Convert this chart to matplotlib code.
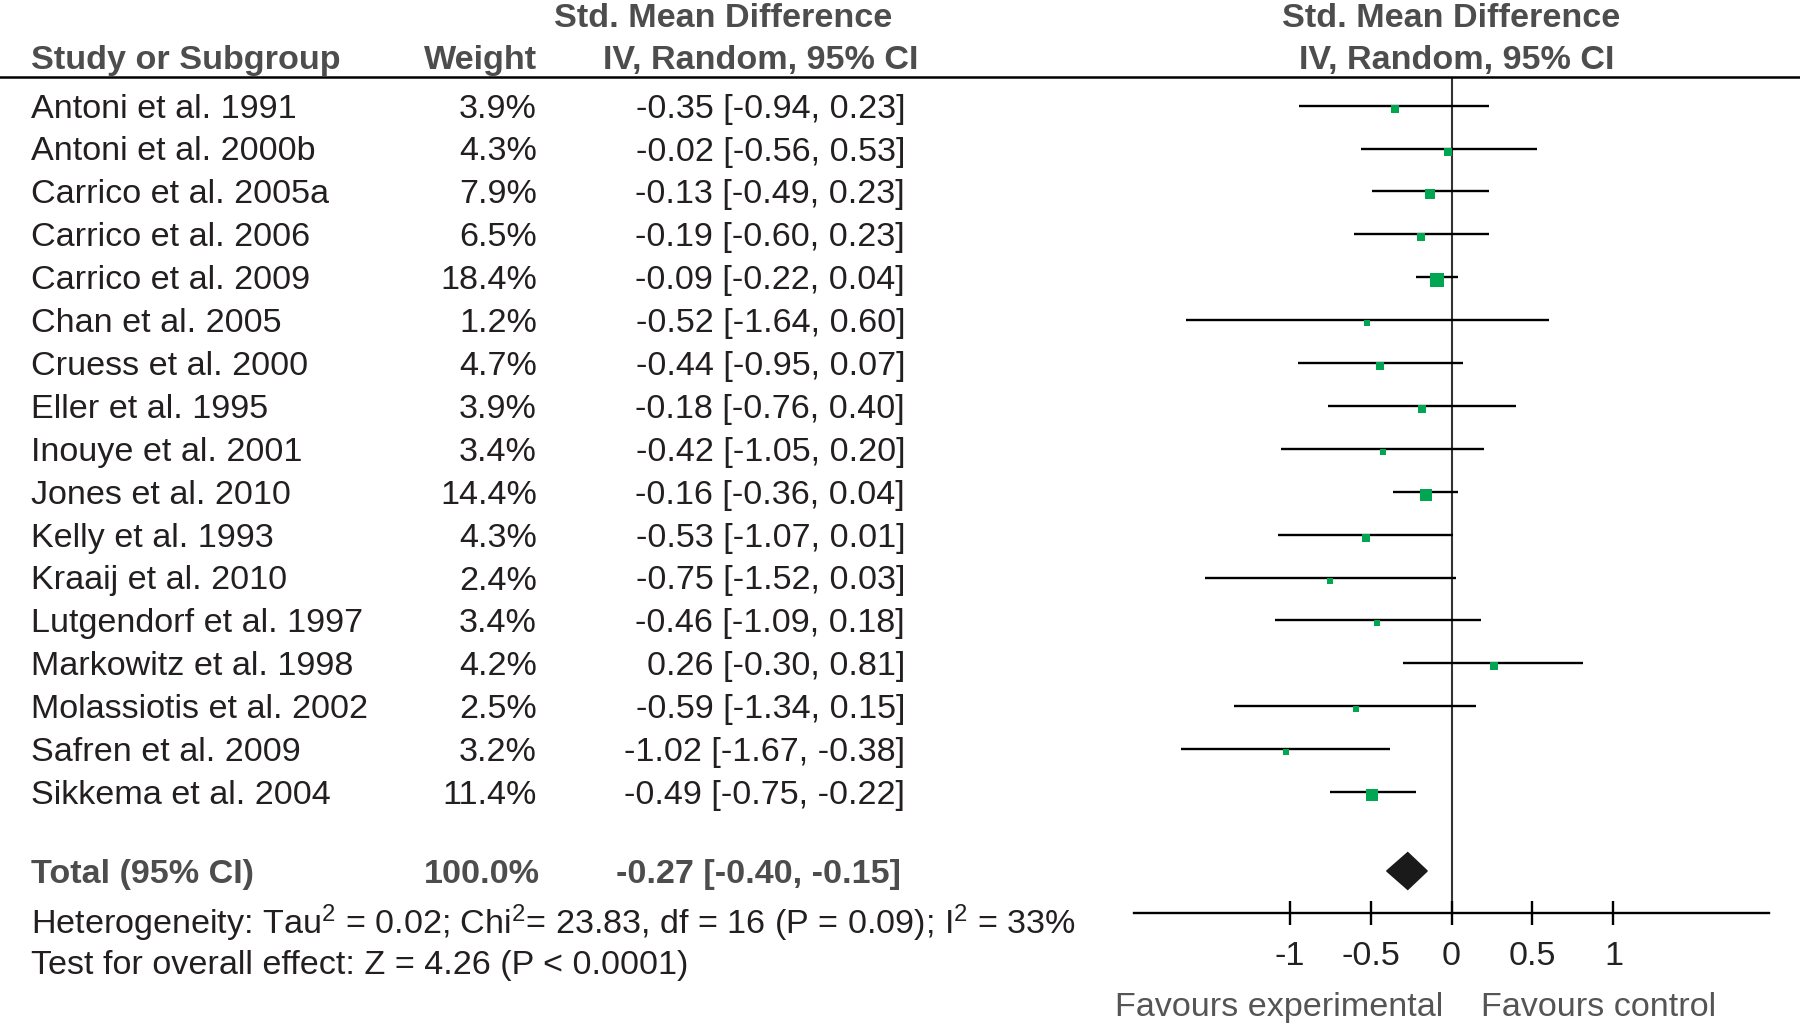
import numpy as np
import matplotlib
matplotlib.use('Agg')
import matplotlib.pyplot as plt
from matplotlib.lines import Line2D
from matplotlib.transforms import blended_transform_factory

plt.rcParams['font.family'] = ['Liberation Sans', 'DejaVu Sans']
plt.rcParams['mathtext.fontset'] = 'custom'
plt.rcParams['mathtext.rm'] = 'Liberation Sans'
plt.rcParams['mathtext.default'] = 'regular'

studies = ['Antoni et al. 1991', 'Antoni et al. 2000b', 'Carrico et al. 2005a',
           'Carrico et al. 2006', 'Carrico et al. 2009', 'Chan et al. 2005',
           'Cruess et al. 2000', 'Eller et al. 1995', 'Inouye et al. 2001',
           'Jones et al. 2010', 'Kelly et al. 1993', 'Kraaij et al. 2010',
           'Lutgendorf et al. 1997', 'Markowitz et al. 1998', 'Molassiotis et al. 2002',
           'Safren et al. 2009', 'Sikkema et al. 2004']
weights = [3.9, 4.3, 7.9, 6.5, 18.4, 1.2, 4.7, 3.9, 3.4, 14.4, 4.3, 2.4, 3.4, 4.2, 2.5, 3.2, 11.4]
smd = [-0.35, -0.02, -0.13, -0.19, -0.09, -0.52, -0.44, -0.18, -0.42, -0.16,
       -0.53, -0.75, -0.46, 0.26, -0.59, -1.02, -0.49]
ci_lo = [-0.94, -0.56, -0.49, -0.60, -0.22, -1.64, -0.95, -0.76, -1.05, -0.36,
         -1.07, -1.52, -1.09, -0.30, -1.34, -1.67, -0.75]
ci_hi = [0.23, 0.53, 0.23, 0.23, 0.04, 0.60, 0.07, 0.40, 0.20, 0.04,
         0.01, 0.03, 0.18, 0.81, 0.15, -0.38, -0.22]
total_w = 100.0
total = -0.27
total_lo, total_hi = -0.40, -0.15
xticks = [-1, -0.5, 0, 0.5, 1]
xticklabels = ['-1', '-0.5', '0', '0.5', '1']

W, H = 1800, 1023
fig = plt.figure(figsize=(W / 100, H / 100), dpi=100)

# forest panel, placed in pixels
x0, x1 = 1134, 1769
ytop, ybot = 77, 913
ax = fig.add_axes([x0 / W, 1 - ybot / H, (x1 - x0) / W, (ybot - ytop) / H])
row0, rowh = 105.6, 42.9
ax.set_xlim(-1.96, 1.96)
ax.set_ylim((ybot - row0) / rowh, (ytop - row0) / rowh)
total_row = (871 - row0) / rowh

rows = np.arange(len(studies))
green = '#00a651'
ax.axvline(0, color='#333333', lw=1.5, zorder=1)
ax.hlines(rows, ci_lo, ci_hi, color='black', lw=1.7, zorder=2)
for r, m, w in zip(rows, smd, weights):
    side = max(1.15 + 3.0 * np.sqrt(w), 6.0) * 0.72  # px -> pt
    ax.plot(m, r + 0.07, marker='s', ms=side, color=green, mec=green, mew=0, zorder=3)
dh = 0.43
ax.fill([total_lo, total, total_hi, total],
        [total_row, total_row - dh, total_row, total_row + dh],
        color='#1a1a1a', zorder=3)

for s in ['top', 'left', 'right']:
    ax.spines[s].set_visible(False)
ax.spines['bottom'].set_linewidth(1.7)
ax.set_yticks([])
ax.set_xticks(xticks)
ax.set_xticklabels(xticklabels)
ax.tick_params(axis='x', direction='inout', length=17, width=1.7, pad=12,
               labelsize=24.6, labelcolor='#222222')

# header rule across the whole figure
fig.add_artist(Line2D([0, 1], [1 - ytop / H] * 2, transform=fig.transFigure,
                      color='black', lw=1.8))

tr = blended_transform_factory(fig.transFigure, ax.transData)
txt = '#231f20'
hdr = '#4d4d4d'
fs = 24.6
dy = 3.5 / rowh  # text sits a touch lower than the marks

def fx(px):
    return px / W

def ry(py):
    return (py - row0) / rowh + dy

fig.text(fx(723), ry(15), 'Std. Mean Difference', transform=tr, ha='center', va='center',
         fontsize=fs, fontweight='bold', color=hdr)
fig.text(fx(1451), ry(15), 'Std. Mean Difference', transform=tr, ha='center', va='center',
         fontsize=fs, fontweight='bold', color=hdr)
fig.text(fx(31), ry(57), 'Study or Subgroup', transform=tr, ha='left', va='center',
         fontsize=fs, fontweight='bold', color=hdr)
fig.text(fx(537), ry(57), 'Weight', transform=tr, ha='right', va='center',
         fontsize=fs, fontweight='bold', color=hdr)
fig.text(fx(918), ry(57), 'IV, Random, 95% CI', transform=tr, ha='right', va='center',
         fontsize=fs, fontweight='bold', color=hdr)
fig.text(fx(1457), ry(57), 'IV, Random, 95% CI', transform=tr, ha='center', va='center',
         fontsize=fs, fontweight='bold', color=hdr)

for r, s, w, m, lo, hi in zip(rows, studies, weights, smd, ci_lo, ci_hi):
    fig.text(fx(31), r + dy, s, transform=tr, ha='left', va='center', fontsize=fs, color=txt)
    fig.text(fx(537), r + dy, f'{w:.1f}%', transform=tr, ha='right', va='center',
             fontsize=fs, color=txt)
    fig.text(fx(905), r + dy, f'{m:.2f} [{lo:.2f}, {hi:.2f}]', transform=tr, ha='right',
             va='center', fontsize=fs, color=txt)

fig.text(fx(31), total_row + dy, 'Total (95% CI)', transform=tr, ha='left', va='center',
         fontsize=fs, fontweight='bold', color=hdr)
fig.text(fx(540), total_row + dy, f'{total_w:.1f}%', transform=tr, ha='right', va='center',
         fontsize=fs, fontweight='bold', color=hdr)
fig.text(fx(901), total_row + dy, f'{total:.2f} [{total_lo:.2f}, {total_hi:.2f}]',
         transform=tr, ha='right', va='center', fontsize=fs, fontweight='bold', color=hdr)

fig.text(fx(31), ry(920),
         r'Heterogeneity: Tau$^{2}$ = 0.02; Chi$^{2}$= 23.83, df = 16 (P = 0.09); I$^{2}$ = 33%',
         transform=tr, ha='left', va='center', fontsize=fs, color=txt)
fig.text(fx(31), ry(962), 'Test for overall effect: Z = 4.26 (P < 0.0001)',
         transform=tr, ha='left', va='center', fontsize=fs, color=txt)

fig.text(fx(1443), ry(1004), 'Favours experimental', transform=tr, ha='right', va='center',
         fontsize=fs, color='#555555')
fig.text(fx(1481), ry(1004), 'Favours control', transform=tr, ha='left', va='center',
         fontsize=fs, color='#555555')

fig.savefig('out.png', dpi=100)
